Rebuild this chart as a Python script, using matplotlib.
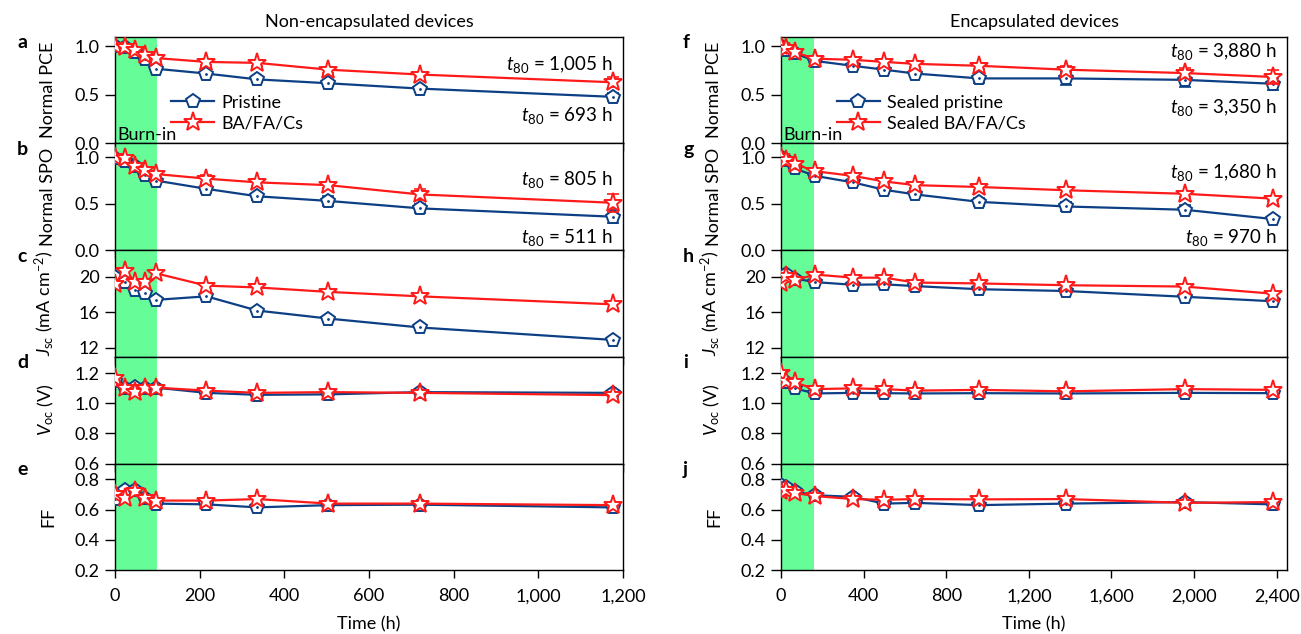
import matplotlib
matplotlib.use('Agg')
import matplotlib.pyplot as plt
from matplotlib import rc
rc('font', family=['Lato', 'DejaVu Sans'], size=13)
rc('mathtext', fontset='custom', rm='Lato', it='Lato:italic')
import numpy as np

# ---------------- data: non-encapsulated (left column) ----------------
t_left = [0, 24, 48, 72, 96, 216, 336, 504, 720, 1176]

pce_pri_l = [1.0, 0.99, 0.94, 0.87, 0.77, 0.72, 0.66, 0.62, 0.565, 0.48]
pce_pri_l_err = [0, 0.01, 0.02, 0.03, 0.03, 0.04, 0.03, 0.03, 0.03, 0.04]
pce_ba_l = [1.0, 0.99, 0.96, 0.91, 0.88, 0.84, 0.83, 0.76, 0.71, 0.63]
pce_ba_l_err = [0, 0.01, 0.02, 0.02, 0.03, 0.03, 0.03, 0.03, 0.03, 0.05]

spo_pri_l = [0.99, 0.96, 0.91, 0.81, 0.75, 0.66, 0.58, 0.53, 0.45, 0.36]
spo_pri_l_err = [0, 0.01, 0.02, 0.03, 0.03, 0.04, 0.04, 0.05, 0.05, 0.07]
spo_ba_l = [1.0, 0.99, 0.91, 0.86, 0.82, 0.77, 0.73, 0.70, 0.60, 0.51]
spo_ba_l_err = [0, 0.01, 0.02, 0.03, 0.03, 0.04, 0.04, 0.03, 0.06, 0.1]

jsc_pri_l = [20.0, 19.4, 18.5, 18.2, 17.4, 17.8, 16.2, 15.3, 14.3, 12.9]
jsc_ba_l = [19.2, 20.7, 19.4, 19.4, 20.4, 19.0, 18.8, 18.3, 17.8, 16.9]

voc_pri_l = [1.15, 1.105, 1.11, 1.105, 1.105, 1.07, 1.057, 1.06, 1.075, 1.07]
voc_ba_l = [1.17, 1.10, 1.075, 1.105, 1.105, 1.085, 1.07, 1.075, 1.07, 1.055]

ff_pri_l = [0.67, 0.73, 0.73, 0.68, 0.64, 0.635, 0.615, 0.63, 0.633, 0.615]
ff_ba_l = [0.705, 0.68, 0.72, 0.68, 0.66, 0.66, 0.67, 0.64, 0.64, 0.63]

# ---------------- data: encapsulated (right column) ----------------
t_right = [0, 24, 66, 165, 348, 500, 650, 960, 1380, 1955, 2380]

pce_pri_r = [1.0, 0.96, 0.93, 0.85, 0.80, 0.76, 0.72, 0.67, 0.67, 0.655, 0.615]
pce_pri_r_err = [0, 0.01, 0.02, 0.02, 0.03, 0.03, 0.03, 0.05, 0.07, 0.07, 0.06]
pce_ba_r = [1.0, 0.98, 0.94, 0.873, 0.862, 0.84, 0.82, 0.80, 0.76, 0.725, 0.685]
pce_ba_r_err = [0, 0.01, 0.02, 0.02, 0.03, 0.03, 0.03, 0.03, 0.04, 0.05, 0.07]

spo_pri_r = [1.0, 0.97, 0.88, 0.80, 0.73, 0.65, 0.60, 0.52, 0.47, 0.435, 0.335]
spo_pri_r_err = [0, 0.01, 0.02, 0.02, 0.03, 0.03, 0.03, 0.04, 0.05, 0.05, 0.03]
spo_ba_r = [1.0, 0.97, 0.93, 0.85, 0.80, 0.74, 0.70, 0.68, 0.645, 0.607, 0.555]
spo_ba_r_err = [0, 0.01, 0.02, 0.02, 0.03, 0.03, 0.03, 0.03, 0.03, 0.03, 0.03]

jsc_pri_r = [19.8, 20.3, 19.8, 19.4, 19.1, 19.15, 18.95, 18.6, 18.4, 17.75, 17.25]
jsc_ba_r = [19.25, 20.1, 19.6, 20.25, 19.9, 19.9, 19.35, 19.25, 19.05, 18.9, 18.1]

voc_pri_r = [1.16, 1.14, 1.10, 1.066, 1.07, 1.068, 1.066, 1.068, 1.066, 1.07, 1.068]
voc_ba_r = [1.20, 1.15, 1.14, 1.095, 1.10, 1.095, 1.085, 1.09, 1.08, 1.095, 1.09]

ff_pri_r = [0.76, 0.75, 0.72, 0.695, 0.685, 0.64, 0.645, 0.63, 0.64, 0.65, 0.635]
ff_ba_r = [0.72, 0.73, 0.71, 0.69, 0.67, 0.665, 0.67, 0.668, 0.67, 0.645, 0.65]

ylabels = ['Normal PCE', 'Normal SPO', r'$J_{\rm sc}$ (mA cm$^{-2}$)', r'$V_{\rm oc}$ (V)', 'FF']
ylims = [(0, 1.1), (0, 1.15), (11, 23), (0.6, 1.31), (0.2, 0.905)]
yticks = [[0, 0.5, 1.0], [0, 0.5, 1.0], [12, 16, 20], [0.6, 0.8, 1.0, 1.2], [0.2, 0.4, 0.6, 0.8]]
yfmt = ['%.1f', '%.1f', '%d', '%.1f', '%.1f']

blue = '#0d3f85'
red = '#ff1a1a'
green = '#66fd98'

W, H = 1301, 634
fig = plt.figure(figsize=(W / 100, H / 100), dpi=100)

top0 = 36.7
ph = 106.7


def make_column(x0, width, t, series, errs, burn, xmax, xticks, xticklabels,
                letters, title, leg_labels, t80):
    axes = []
    handles = None
    for k in range(5):
        bottom = 1 - (top0 + (k + 1) * ph) / H
        ax = fig.add_axes([x0 / W, bottom, width / W, ph / H])
        axes.append(ax)
        ax.axvspan(0, burn, color=green, lw=0, zorder=0)
        pri, ba = series[k]
        epri, eba = errs[k]
        if epri is not None:
            ax.errorbar(t, pri, yerr=epri, fmt='none', ecolor=blue, capsize=4,
                        elinewidth=1.2, capthick=1.2, zorder=2)
            ax.errorbar(t, ba, yerr=eba, fmt='none', ecolor=red, capsize=4,
                        elinewidth=1.2, capthick=1.2, zorder=4)
        h1, = ax.plot(t, pri, color=blue, lw=1.6, marker='p', ms=10,
                      mfc='white', mec=blue, mew=1.4, label=leg_labels[0], zorder=3)
        ax.plot(t, pri, ls='none', marker='.', ms=2, color=blue, zorder=3.5)
        h2, = ax.plot(t, ba, color=red, lw=1.6, marker='*', ms=14,
                      mfc='white', mec=red, mew=1.4, label=leg_labels[1], zorder=5)
        if handles is None:
            handles = [h1, h2]
        ax.set_xlim(0, xmax)
        ax.set_ylim(*ylims[k])
        ax.set_yticks(yticks[k])
        ax.set_yticklabels([yfmt[k] % v for v in yticks[k]])
        ax.set_xticks(xticks)
        ax.tick_params(direction='out', width=1, labelsize=13)
        ax.tick_params(axis='x', length=6, pad=7)
        ax.tick_params(axis='y', length=7, pad=4)
        if k < 4:
            ax.set_xticklabels([])
        else:
            ax.set_xticklabels(xticklabels)
            ax.set_xlabel('Time (h)', fontsize=13, labelpad=9)
        ax.set_ylabel(ylabels[k], fontsize=13)
        ax.yaxis.set_label_coords(-0.116, 0.5)
        for s in ax.spines.values():
            s.set_linewidth(1.0)
        fig.text((x0 - 98) / W, 1 - (top0 + k * ph + 6) / H, letters[k],
                 fontsize=14, fontweight='bold', ha='left', va='center')

    axes[0].set_title(title, fontsize=13, pad=7)
    axes[0].text(0.004, 0.005, 'Burn-in', transform=axes[0].transAxes,
                 ha='left', va='bottom', fontsize=13, zorder=6)
    axes[0].legend(handles=handles, loc='center left', bbox_to_anchor=(0.11, 0.285),
                   frameon=False, borderpad=0, borderaxespad=0, handlelength=2.4,
                   handletextpad=0.4, labelspacing=0.25, fontsize=13)
    for k, (txt_top, y_top, txt_bot, y_bot) in enumerate(t80):
        axes[k].text(0.98, y_top, r'$t_{80}$ = ' + txt_top, transform=axes[k].transAxes,
                     ha='right', va='center', fontsize=13.5)
        axes[k].text(0.98, y_bot, r'$t_{80}$ = ' + txt_bot, transform=axes[k].transAxes,
                     ha='right', va='center', fontsize=13.5)
    return axes


make_column(115, 508, t_left,
            [(pce_pri_l, pce_ba_l), (spo_pri_l, spo_ba_l), (jsc_pri_l, jsc_ba_l),
             (voc_pri_l, voc_ba_l), (ff_pri_l, ff_ba_l)],
            [(pce_pri_l_err, pce_ba_l_err), (spo_pri_l_err, spo_ba_l_err),
             (None, None), (None, None), (None, None)],
            100, 1200, [0, 200, 400, 600, 800, 1000, 1200],
            ['0', '200', '400', '600', '800', '1,000', '1,200'],
            ['a', 'b', 'c', 'd', 'e'], 'Non-encapsulated devices',
            ['Pristine', 'BA/FA/Cs'],
            [('1,005 h', 0.74, '693 h', 0.26), ('805 h', 0.66, '511 h', 0.12)])

make_column(781, 506, t_right,
            [(pce_pri_r, pce_ba_r), (spo_pri_r, spo_ba_r), (jsc_pri_r, jsc_ba_r),
             (voc_pri_r, voc_ba_r), (ff_pri_r, ff_ba_r)],
            [(pce_pri_r_err, pce_ba_r_err), (spo_pri_r_err, spo_ba_r_err),
             (None, None), (None, None), (None, None)],
            160, 2450, [0, 400, 800, 1200, 1600, 2000, 2400],
            ['0', '400', '800', '1,200', '1,600', '2,000', '2,400'],
            ['f', 'g', 'h', 'i', 'j'], 'Encapsulated devices',
            ['Sealed pristine', 'Sealed BA/FA/Cs'],
            [('3,880 h', 0.86, '3,350 h', 0.34), ('1,680 h', 0.73, '970 h', 0.12)])

fig.savefig('out.png', dpi=100)
